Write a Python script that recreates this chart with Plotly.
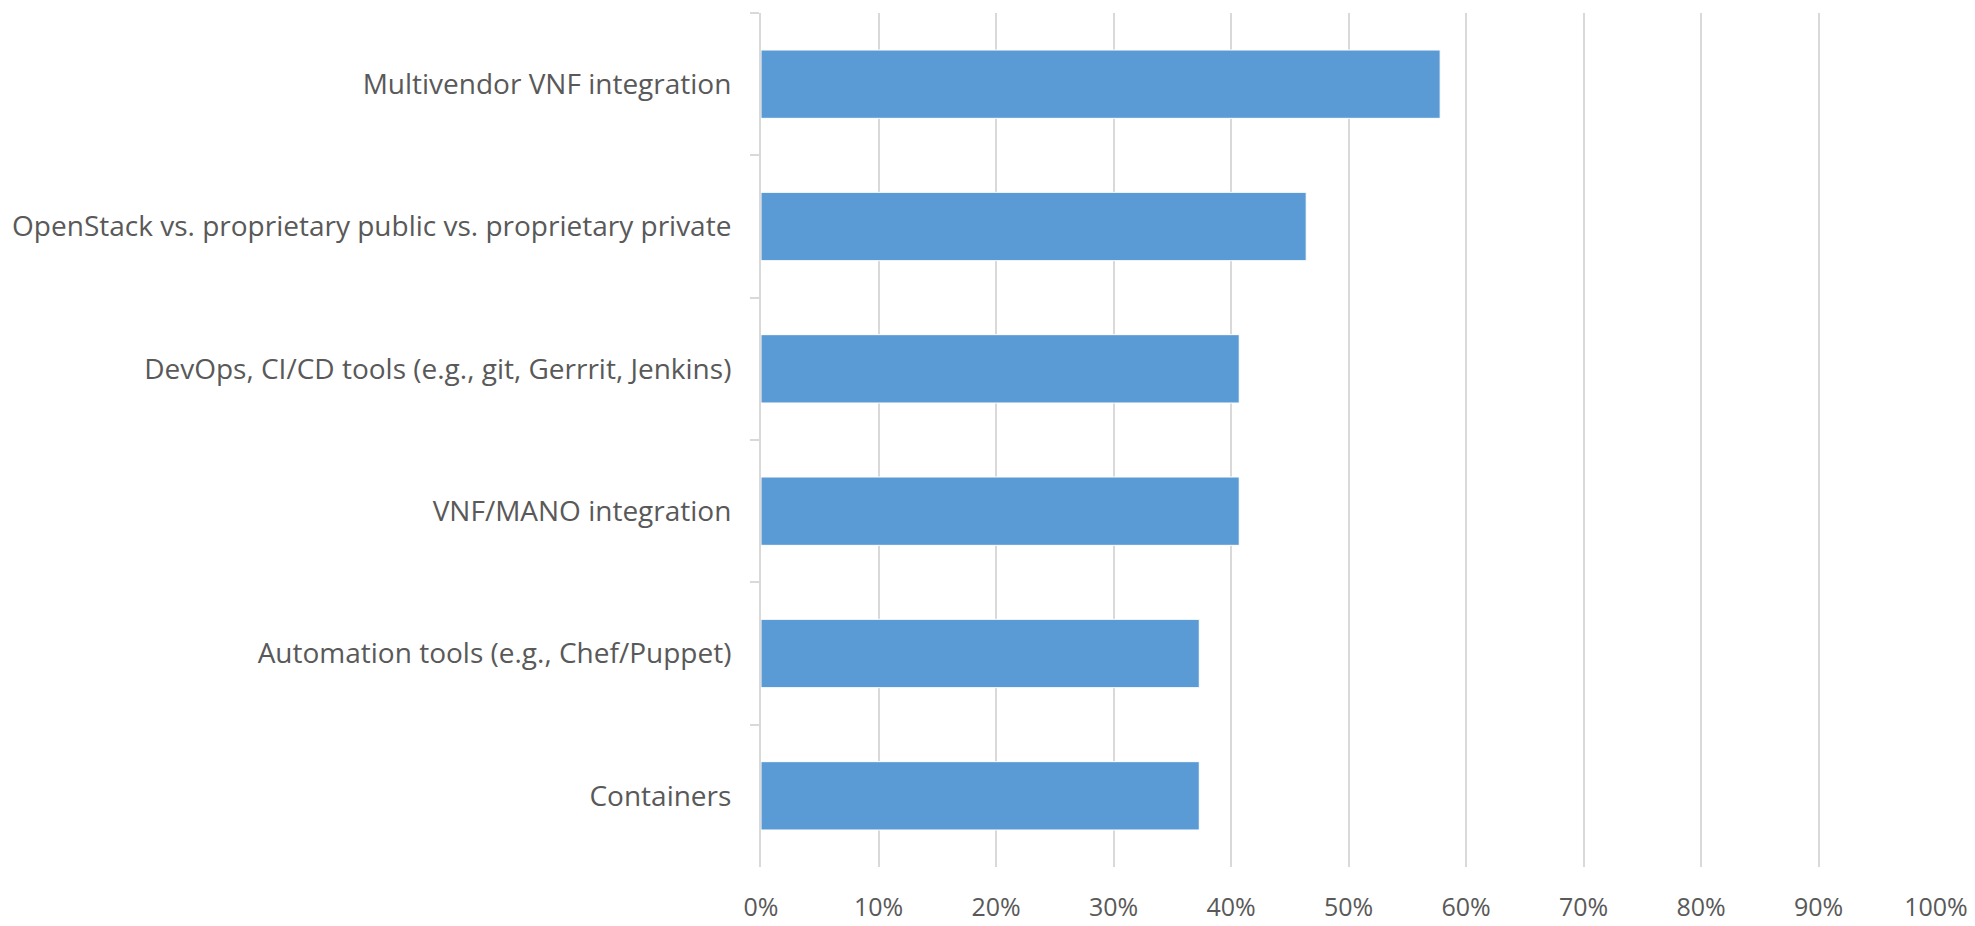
import plotly.graph_objects as go

categories = [
    "Multivendor VNF integration",
    "OpenStack vs. proprietary public vs. proprietary private",
    "DevOps, CI/CD tools (e.g., git, Gerrrit, Jenkins)",
    "VNF/MANO integration",
    "Automation tools (e.g., Chef/Puppet)",
    "Containers",
]
values = [0.578, 0.464, 0.407, 0.407, 0.373, 0.373]
x_ticks = [0, 0.1, 0.2, 0.3, 0.4, 0.5, 0.6, 0.7, 0.8, 0.9, 1.0]
x_tick_labels = ["0%", "10%", "20%", "30%", "40%", "50%", "60%", "70%", "80%", "90%", "100%"]

BAR = "#5B9BD5"
GRID = "#D9D9D9"
TEXT = "#595959"

fig = go.Figure(
    go.Bar(
        x=values,
        y=categories,
        orientation="h",
        marker=dict(color=BAR, line=dict(color="#FFFFFF", width=1)),
        hoverinfo="x+y",
    )
)

# page body has an 8px default margin, so the figure is shifted by 8px
fig.update_layout(
    width=1967,
    height=918,
    margin=dict(l=753, r=39, t=5, b=59, autoexpand=False),
    paper_bgcolor="white",
    plot_bgcolor="white",
    bargap=0.52,
    showlegend=False,
    font=dict(family="Open Sans, Calibri, sans-serif", size=24, color=TEXT),
)

fig.update_xaxes(
    range=[0, 1],
    tickvals=x_ticks,
    ticktext=x_tick_labels,
    showgrid=True,
    gridcolor=GRID,
    gridwidth=2,
    zeroline=False,
    showline=False,
    ticks="outside",
    ticklen=18,
    tickcolor="rgba(0,0,0,0)",
    tickfont=dict(size=25, color=TEXT),
    fixedrange=True,
    automargin=False,
)

fig.update_yaxes(
    categoryorder="array",
    categoryarray=categories,
    autorange="reversed",
    showgrid=False,
    zeroline=False,
    showline=True,
    linecolor=GRID,
    linewidth=2,
    ticks="outside",
    tickson="boundaries",
    ticklen=9,
    tickwidth=2,
    tickcolor=GRID,
    ticklabelstandoff=22,
    tickfont=dict(size=28, color=TEXT),
    fixedrange=True,
    automargin=False,
)

fig.write_html("out.html")
